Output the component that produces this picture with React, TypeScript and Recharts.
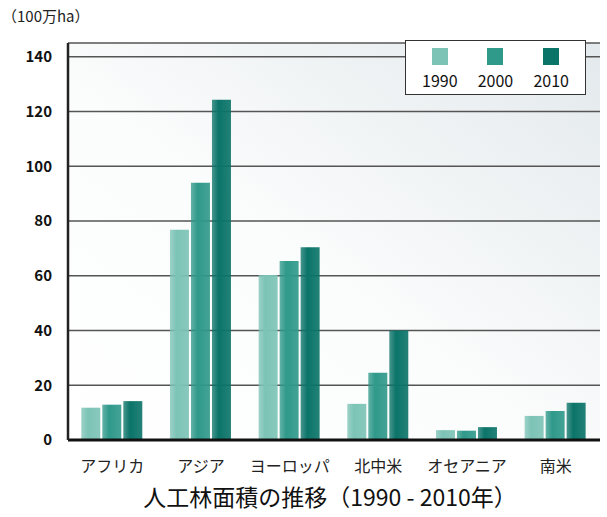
import React from "react";
import { BarChart, Bar, XAxis, YAxis, CartesianGrid } from "recharts";

const categories = ["アフリカ", "アジア", "ヨーロッパ", "北中米", "オセアニア", "南米"];
const values1990 = [11.8, 76.8, 60.3, 13.2, 3.6, 8.8];
const values2000 = [12.9, 94.0, 65.4, 24.6, 3.4, 10.6];
const values2010 = [14.2, 124.3, 70.4, 40.0, 4.7, 13.6];
const seriesNames = ["1990", "2000", "2010"];
const yTicks = [0, 20, 40, 60, 80, 100, 120, 140];
const unitLabel = "（100万ha）";
const titleText = "人工林面積の推移（1990 - 2010年）";

const colors = ["#7cc3b6", "#2f998a", "#0b7469"];

const data = categories.map((c, i) => ({
  name: c,
  v1990: values1990[i],
  v2000: values2000[i],
  v2010: values2010[i],
}));

const FONT = '"Noto Sans CJK JP", "Noto Sans", sans-serif';

const LegendBox = () => (
  <div
    style={{
      position: "absolute",
      left: 405,
      top: 40,
      width: 181,
      height: 55,
      border: "1.5px solid #333",
      background: "#fff",
      display: "flex",
      justifyContent: "space-around",
      boxSizing: "border-box",
      fontFamily: FONT,
      padding: "0 6px",
    }}
  >
    {seriesNames.map((s, i) => (
      <div key={s} style={{ display: "flex", flexDirection: "column", alignItems: "center" }}>
        <div style={{ width: 16, height: 17, background: colors[i], marginTop: 7 }} />
        <div style={{ fontSize: 16, color: "#111", lineHeight: "18px", marginTop: 6 }}>{s}</div>
      </div>
    ))}
  </div>
);

export default function App() {
  return (
    <div style={{ position: "absolute", left: 0, top: 0, width: 607, height: 517, background: "#fff", fontFamily: FONT }}>
      <BarChart
        width={607}
        height={517}
        data={data}
        margin={{ top: 43, right: 7, bottom: 47, left: 8 }}
        barCategoryGap="15%"
        barGap={2}
      >
        <defs>
          <linearGradient id="bgGrad" x1="0" y1="1" x2="1" y2="0">
            <stop offset="0%" stopColor="#ffffff" />
            <stop offset="45%" stopColor="#fbfcfc" />
            <stop offset="100%" stopColor="#e3e9ec" />
          </linearGradient>
          {colors.map((c, i) => (
            <linearGradient key={i} id={`bar${i}`} x1="0" y1="0" x2="1" y2="0">
              <stop offset="0%" stopColor={c} stopOpacity={0.75} />
              <stop offset="35%" stopColor={c} />
              <stop offset="100%" stopColor={c} stopOpacity={0.9} />
            </linearGradient>
          ))}
        </defs>
        <CartesianGrid vertical={false} stroke="#555" strokeWidth={1.5} fill="url(#bgGrad)" />
        <XAxis
          dataKey="name"
          height={30}
          tickLine={false}
          axisLine={{ stroke: "#111", strokeWidth: 3 }}
          tick={{ fontSize: 16, fill: "#222", fontFamily: FONT }}
          dy={13}
        />
        <YAxis
          domain={[0, 145]}
          ticks={yTicks}
          width={60}
          tickLine={false}
          axisLine={{ stroke: "#222", strokeWidth: 2.5 }}
          tick={{ fontSize: 15, fill: "#111", fontWeight: 700, fontFamily: FONT }}
          dx={-8}
        />
        <Bar dataKey="v1990" name="1990" fill="url(#bar0)" isAnimationActive={false} />
        <Bar dataKey="v2000" name="2000" fill="url(#bar1)" isAnimationActive={false} />
        <Bar dataKey="v2010" name="2010" fill="url(#bar2)" isAnimationActive={false} />
      </BarChart>
      <LegendBox />
      <div style={{ position: "absolute", left: 2, top: 5, fontSize: 15, color: "#222" }}>{unitLabel}</div>
      <div
        style={{
          position: "absolute",
          left: 0,
          width: 660,
          top: 481,
          textAlign: "center",
          fontSize: 23,
          fontWeight: 400,
          color: "#111",
          lineHeight: "30px",
        }}
      >
        {titleText}
      </div>
    </div>
  );
}
